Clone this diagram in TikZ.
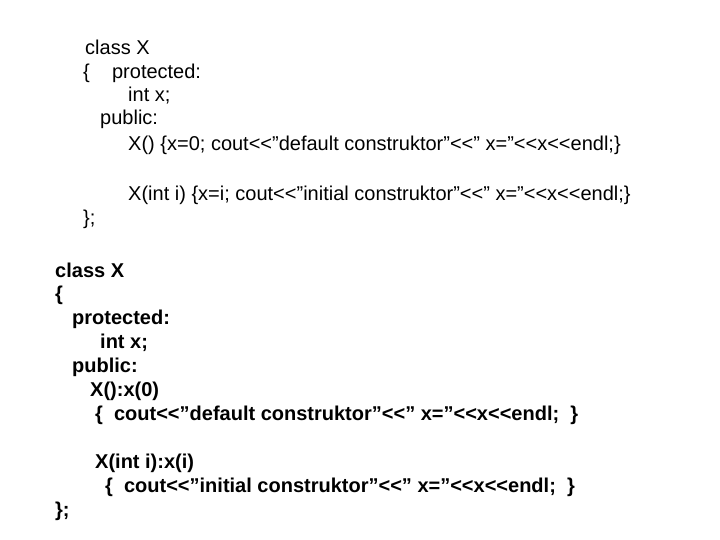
\documentclass[tikz,border=0pt]{standalone}
\usepackage{fontspec}
\setmainfont{Liberation Sans}
\newcommand{\qt}{\symbol{34}}
\begin{document}
\begin{tikzpicture}[x=1pt,y=-1pt,
    code/.style={anchor=west,inner sep=0pt,font=\fontsize{20}{24}\selectfont},
    boldcode/.style={anchor=west,inner sep=0pt,font=\fontsize{20}{24}\selectfont\bfseries}]
    \useasboundingbox (0,0) rectangle (720,540);

    % first version
    \node[code] (a1) at (85,47) {class X};
    \node[code] (a2) at (83,73) {\{\ \ \ \ protected:};
    \node[code] (a3) at (128,96) {int x;};
    \node[code] (a4) at (100,119) {public:};
    \node[code] (a5) at (128,145) {X() \{x=0; cout<{}<\qt default construktor\qt<{}<\qt\ x=\qt<{}<x<{}<endl;\}};
    \node[code] (a6) at (128,195) {X(int i) \{x=i; cout<{}<\qt initial construktor\qt<{}<\qt\ x=\qt<{}<x<{}<endl;\}};
    \node[code] (a7) at (83,219) {\};};

    % second version
    \node[boldcode] (b1) at (55,270) {class X};
    \node[boldcode] (b2) at (55,295) {\{};
    \node[boldcode] (b3) at (72,319) {protected:};
    \node[boldcode] (b4) at (100,343) {int x;};
    \node[boldcode] (b5) at (72,367) {public:};
    \node[boldcode] (b6) at (90,391) {X():x(0)};
    \node[boldcode] (b7) at (95,415) {\{\ \ cout<{}<\qt default construktor\qt<{}<\qt\ x=\qt<{}<x<{}<endl;\ \ \}};
    \node[boldcode] (b8) at (95,463) {X(int i):x(i)};
    \node[boldcode] (b9) at (105,487) {\{\ \ cout<{}<\qt initial construktor\qt<{}<\qt\ x=\qt<{}<x<{}<endl;\ \ \}};
    \node[boldcode] (b10) at (55,511) {\};};
\end{tikzpicture}
\end{document}
